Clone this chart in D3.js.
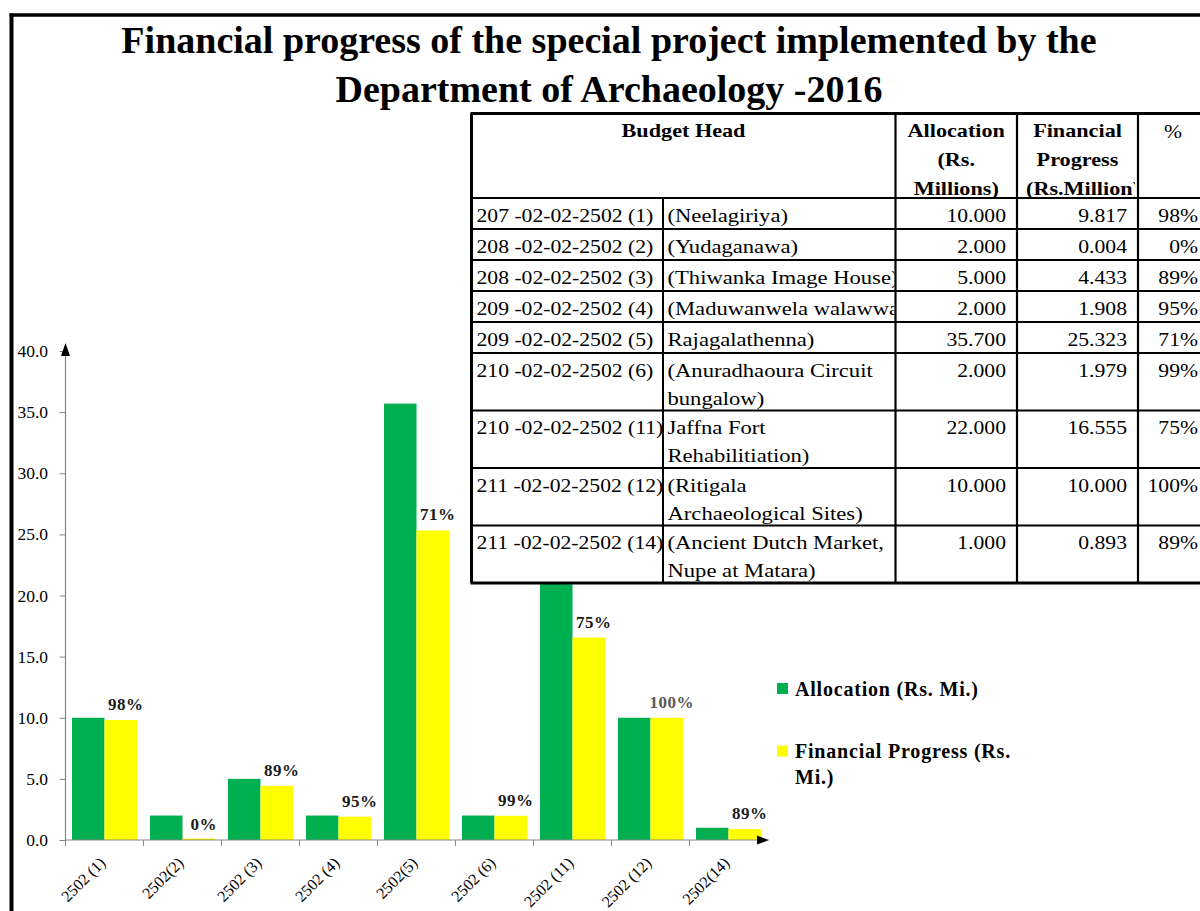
<!DOCTYPE html>
<html>
<head>
<meta charset="utf-8">
<script src="https://cdn.jsdelivr.net/npm/d3@7"></script>
<style>
  body { margin: 0; background: #fff; }
  svg { display: block; }
  text { font-family: "Liberation Serif", "Times New Roman", serif; }
</style>
</head>
<body>
<svg id="chart"></svg>
<script>
// chart data
var titleLines = ["Financial progress of the special project implemented by the", "Department of Archaeology -2016"];
var categories = ["2502 (1)", "2502(2)", "2502 (3)", "2502 (4)", "2502(5)", "2502 (6)", "2502 (11)", "2502 (12)", "2502(14)"];
var allocation = [10.000, 2.000, 5.000, 2.000, 35.700, 2.000, 22.000, 10.000, 1.000];
var progress = [9.817, 0.004, 4.433, 1.908, 25.323, 1.979, 16.555, 10.000, 0.893];
var percentLabels = ["98%", "0%", "89%", "95%", "71%", "99%", "75%", "100%", "89%"];
var yTicks = [0, 5, 10, 15, 20, 25, 30, 35, 40];
var seriesNames = ["Allocation (Rs. Mi.)", "Financial Progress (Rs. Mi.)"];
var seriesColors = ["#00b050", "#ffff00"];

// table data
var budgetCodes = ["207 -02-02-2502 (1)", "208 -02-02-2502 (2)", "208 -02-02-2502 (3)", "209 -02-02-2502 (4)",
    "209 -02-02-2502 (5)", "210 -02-02-2502 (6)", "210 -02-02-2502 (11)", "211 -02-02-2502 (12)", "211 -02-02-2502 (14)"];
var budgetNames = [["(Neelagiriya)"], ["(Yudaganawa)"], ["(Thiwanka Image House)"], ["(Maduwanwela walawwa)"],
    ["Rajagalathenna)"], ["(Anuradhaoura Circuit", "bungalow)"], ["Jaffna Fort", "Rehabilitiation)"],
    ["(Ritigala", "Archaeological Sites)"], ["(Ancient Dutch Market,", "Nupe at Matara)"]];
var headBudget = "Budget Head";
var headAllocation = ["Allocation", "(Rs.", "Millions)"];
var headProgress = ["Financial", "Progress", "(Rs.Million)"];
var headPercent = "%";

var w = 1200, h = 911;
var svg = d3.select("#chart").attr("width", w).attr("height", h);

svg.append("rect").attr("width", w).attr("height", h).attr("fill", "#fff");

// outer frame (left and top edges visible)
svg.append("line").attr("x1", 11.5).attr("x2", 11.5).attr("y1", 13.5).attr("y2", h)
    .attr("stroke", "#000").attr("stroke-width", 4);
svg.append("line").attr("x1", 9.5).attr("x2", w).attr("y1", 15).attr("y2", 15)
    .attr("stroke", "#000").attr("stroke-width", 3.5);

// title
svg.selectAll("text.title")
    .data(titleLines)
    .enter()
    .append("text")
    .attr("class", "title")
    .attr("x", 609)
    .attr("y", function(d, i) { return 53 + i * 48.5; })
    .attr("text-anchor", "middle")
    .attr("font-size", 38)
    .attr("font-weight", "bold")
    .attr("fill", "#000")
    .text(function(d) { return d; });

// scales
var xScale = d3.scaleBand()
    .domain(categories)
    .range([65.5, 767.5]);

var xInner = d3.scaleBand()
    .domain([0, 1])
    .range([6.5, xScale.bandwidth() - 6.5]);

var yScale = d3.scaleLinear()
    .domain([0, 40])
    .range([840, 351]);

// bars
var barData = [];
categories.forEach(function(c, i) {
    barData.push({ cat: c, s: 0, v: allocation[i] });
    barData.push({ cat: c, s: 1, v: progress[i] });
});

svg.append("g").selectAll("rect")
    .data(barData)
    .enter()
    .append("rect")
    .attr("x", function(d) { return xScale(d.cat) + xInner(d.s); })
    .attr("y", function(d) { return Math.min(yScale(d.v), yScale(0) - 1.5); })
    .attr("width", xInner.bandwidth())
    .attr("height", function(d) { return Math.max(yScale(0) - yScale(d.v), 1.5); })
    .attr("fill", function(d) { return seriesColors[d.s]; });

// y axis
var yAxis = d3.axisLeft(yScale)
    .tickValues(yTicks)
    .tickFormat(d3.format(".1f"))
    .tickSize(6)
    .tickPadding(11.5);

var gy = svg.append("g")
    .attr("transform", "translate(65.5,0)")
    .call(yAxis);
gy.select(".domain").remove();
gy.selectAll("line").attr("stroke", "#868686");
gy.selectAll("text")
    .attr("font-size", 17.5)
    .attr("fill", "#000")
    .style("font-family", "'Liberation Serif', serif");

svg.append("line").attr("x1", 65.5).attr("x2", 65.5).attr("y1", 840).attr("y2", 352)
    .attr("stroke", "#868686").attr("stroke-width", 1.2);
svg.append("path").attr("d", "M65.5,343L61,356L70,356Z").attr("fill", "#000");

// x axis (ticks on the band edges)
svg.append("line").attr("x1", 65.5).attr("x2", 760).attr("y1", 840).attr("y2", 840)
    .attr("stroke", "#868686").attr("stroke-width", 1.2);
svg.append("path").attr("d", "M769,840L757,835.5L757,844.5Z").attr("fill", "#000");

var edges = categories.map(function(c) { return xScale(c); });
svg.append("g").selectAll("line")
    .data(edges)
    .enter()
    .append("line")
    .attr("x1", function(d) { return d; })
    .attr("x2", function(d) { return d; })
    .attr("y1", 840)
    .attr("y2", 846)
    .attr("stroke", "#868686");

svg.append("g").selectAll("text")
    .data(categories)
    .enter()
    .append("text")
    .attr("transform", function(d) {
        return "translate(" + (xScale(d) + xScale.bandwidth() / 2 + 2) + ",864) rotate(-45)";
    })
    .attr("text-anchor", "end")
    .attr("font-size", 16)
    .attr("fill", "#000")
    .text(function(d) { return d; });

// percentage labels above the progress bars
svg.append("g").selectAll("text")
    .data(percentLabels)
    .enter()
    .append("text")
    .attr("x", function(d, i) { return xScale(categories[i]) + xInner(1) + xInner.bandwidth() / 2 + 5; })
    .attr("y", function(d, i) { return yScale(progress[i]) - 10; })
    .attr("text-anchor", "middle")
    .attr("font-size", 17)
    .attr("font-weight", "bold")
    .attr("letter-spacing", 0.5)
    .attr("fill", function(d) { return d === "100%" ? "#595959" : "#1a1a1a"; })
    .text(function(d) { return d; });

// legend
var legend = svg.append("g").attr("transform", "translate(777,683)");
var legendLines = [[seriesNames[0]], ["Financial Progress (Rs.", "Mi.)"]];
legendLines.forEach(function(lines, i) {
    var g = legend.append("g").attr("transform", "translate(0," + (i * 62.5) + ")");
    g.append("rect").attr("width", 11).attr("height", 11).attr("fill", seriesColors[i]);
    g.selectAll("text")
        .data(lines)
        .enter()
        .append("text")
        .attr("x", 18)
        .attr("y", function(d, j) { return 12.5 + j * 25.5; })
        .attr("font-size", 20)
        .attr("font-weight", "bold")
        .attr("letter-spacing", 0.8)
        .attr("fill", "#000")
        .text(function(d) { return d; });
});

// table (drawn on top of the chart)
var colX = [471.5, 663, 895.5, 1017, 1138, 1214];
var headTop = 113.5, headBottom = 198;
var rowH1 = 31, rowH2 = 57.5;
var rowTops = [];
var yy = headBottom;
budgetNames.forEach(function(n) {
    rowTops.push(yy);
    yy += n.length > 1 ? rowH2 : rowH1;
});
var tableBottom = yy;

var defs = svg.append("defs");
defs.append("clipPath").attr("id", "clipName")
    .append("rect").attr("x", colX[1]).attr("y", headBottom).attr("width", colX[2] - colX[1] - 1).attr("height", tableBottom - headBottom);
defs.append("clipPath").attr("id", "clipProg")
    .append("rect").attr("x", colX[3]).attr("y", headTop).attr("width", colX[4] - colX[3] - 3).attr("height", headBottom - headTop);

var table = svg.append("g");
table.append("rect")
    .attr("x", colX[0]).attr("y", headTop)
    .attr("width", colX[5] - colX[0]).attr("height", tableBottom - headTop)
    .attr("fill", "#fff");

function cellText(g, str, x, y, anchor, size, weight, sx) {
    return g.append("text")
        .attr("transform", "translate(" + x + "," + y + ") scale(" + sx + ",1)")
        .attr("text-anchor", anchor)
        .attr("font-size", size)
        .attr("font-weight", weight)
        .attr("fill", "#000")
        .text(str);
}

// header
var hs = 18.5, hsx = 1.2;
cellText(table, headBudget, (colX[0] + colX[2]) / 2, 137, "middle", hs, "bold", hsx);
headAllocation.forEach(function(t, i) {
    cellText(table, t, (colX[2] + colX[3]) / 2, 137 + i * 29, "middle", hs, "bold", hsx);
});
var progHead = table.append("g").attr("clip-path", "url(#clipProg)");
headProgress.forEach(function(t, i) {
    if (i < 2) cellText(progHead, t, (colX[3] + colX[4]) / 2, 137 + i * 29, "middle", hs, "bold", hsx);
    else cellText(progHead, t, 1026, 137 + i * 29, "start", hs, "bold", hsx);
});
cellText(table, headPercent, 1173, 138, "middle", 19, "normal", 1.14);

// body
var bs = 19, bsx = 1.14;
var fmt = d3.format(".3f");
var nameG = table.append("g").attr("clip-path", "url(#clipName)");
rowTops.forEach(function(top, i) {
    var base = top + 23.5;
    cellText(table, budgetCodes[i], 476.5, base, "start", bs, "normal", bsx);
    budgetNames[i].forEach(function(t, j) {
        cellText(nameG, t, 667.5, base + j * 28, "start", bs, "normal", 1.19);
    });
    cellText(table, fmt(allocation[i]), colX[3] - 11, base, "end", bs, "normal", bsx);
    cellText(table, fmt(progress[i]), colX[4] - 11, base, "end", bs, "normal", bsx);
    cellText(table, percentLabels[i], 1198, base, "end", bs, "normal", bsx);
});

// grid lines
var hLines = [headTop, headBottom].concat(rowTops.slice(1), [tableBottom]);
table.selectAll("line.h")
    .data(hLines)
    .enter()
    .append("line")
    .attr("class", "h")
    .attr("x1", colX[0] - 1).attr("x2", colX[5])
    .attr("y1", function(d) { return d; }).attr("y2", function(d) { return d; })
    .attr("stroke", "#000")
    .attr("stroke-width", function(d, i) { return i === 0 || i === hLines.length - 1 ? 3 : 2.2; });

var vLines = [
    { x: colX[0], y1: headTop, y2: tableBottom, sw: 3 },
    { x: colX[1], y1: headBottom, y2: tableBottom, sw: 2 },
    { x: colX[2], y1: headTop, y2: tableBottom, sw: 2.2 },
    { x: colX[3], y1: headTop, y2: tableBottom, sw: 2.2 },
    { x: colX[4], y1: headTop, y2: tableBottom, sw: 2.2 }
];
table.selectAll("line.v")
    .data(vLines)
    .enter()
    .append("line")
    .attr("class", "v")
    .attr("x1", function(d) { return d.x; }).attr("x2", function(d) { return d.x; })
    .attr("y1", function(d) { return d.y1; }).attr("y2", function(d) { return d.y2; })
    .attr("stroke", "#000")
    .attr("stroke-width", function(d) { return d.sw; });
</script>
</body>
</html>
